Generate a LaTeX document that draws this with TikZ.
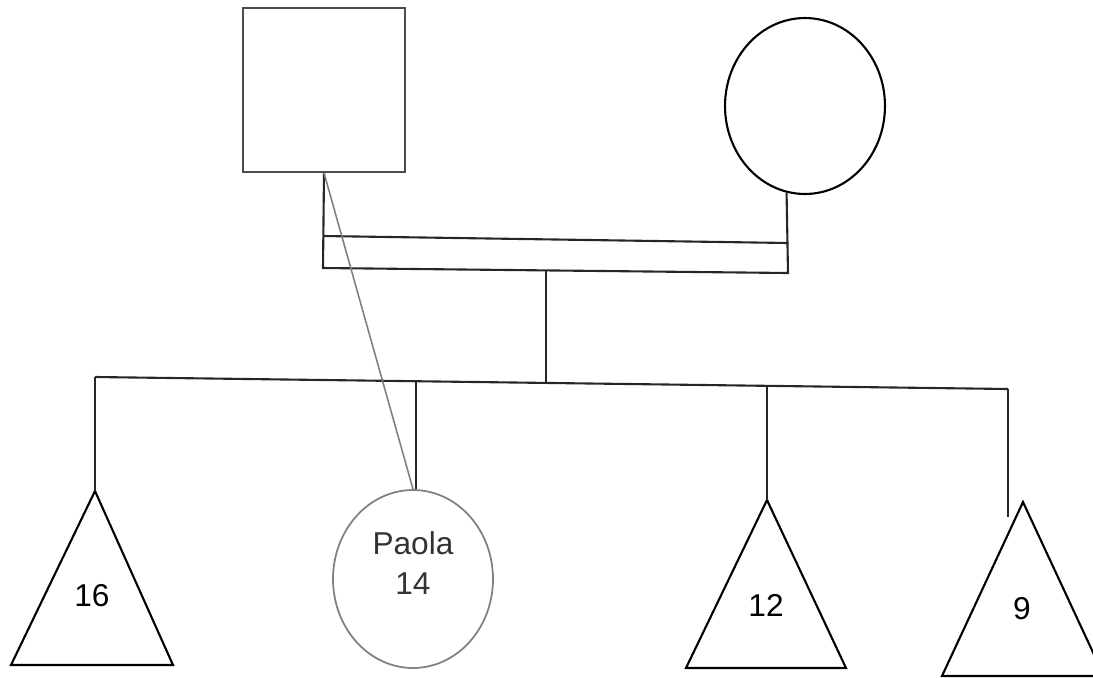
\documentclass[tikz,border=0pt]{standalone}
\usepackage{fontspec}
\setmainfont{Liberation Sans}
\usetikzlibrary{positioning, shapes.geometric, calc}

\begin{document}
\begin{tikzpicture}[x=0.02cm, y=-0.02cm,
        font=\fontsize{18}{22.5}\selectfont,
        every node/.style={align=center},
        line/.style={line width=1.2pt, black!85},
        faint/.style={line width=0.9pt, black!50},
        male/.style={draw, line width=1.1pt, black!70, minimum width=3.24cm, minimum height=3.28cm, inner sep=0pt},
        female/.style={draw, ellipse, line width=1.2pt, minimum width=3.2cm, minimum height=#1, inner sep=0pt},
        female/.default=3.52cm,
        tri/.style={line width=1.2pt, line join=miter}]

        \useasboundingbox (0,0) rectangle (1093,677);
        \clip (0,0) rectangle (1093,677);

        % Eltern
        \node[male] (father) at (324,90) {};
        \node[female] (mother) at (805,106) {};

        % Paarlinie (doppelt)
        \coordinate (cu1) at (323,236);
        \coordinate (cu2) at (788,243);
        \coordinate (cl1) at (323,268);
        \coordinate (cl2) at (788,273);
        \draw[line] (father.south) -- (cl1) -- (cl2) -- (mother.-102);
        \draw[line] (cu1) -- (cu2);

        % Abstammung und Geschwisterlinie
        \coordinate (desc) at (546,270);
        \coordinate (sib) at (546,383);
        \coordinate (s1) at (95,377);
        \coordinate (s2) at (416,381);
        \coordinate (s3) at (767,386);
        \coordinate (s4) at (1008,389);
        \draw[line] (desc) -- (sib);
        \draw[line] (s1) -- (s4);

        % Kinder
        \coordinate (t16) at (95,491);
        \coordinate (t12) at (767,500);
        \coordinate (t9)  at (1023,502);
        \coordinate (e9)  at (1008,517);
        \draw[tri] (t16) -- ++(-84,174) -- ++(162,0) -- cycle;
        \draw[tri] (t12) -- ++(-81,168) -- ++(160,0) -- cycle;
        \draw[tri] (t9)  -- ++(-81,174) -- ++(162,0) -- cycle;
        \node[female=3.56cm, draw=black!50, line width=1pt] (paola) at (413,579) {};

        \node (n16) at (92,596) {16};
        \node (n12) at (766,605) {12};
        \node (n9)  at (1022,609) {9};
        \node[text=black!80] (ptxt) at (413,563) {Paola\\14};

        \draw[line] (s1) -- (t16);
        \draw[line] (s2) -- (s2 |- paola.north);
        \draw[line] (s3) -- (t12);
        \draw[line] (s4) -- (e9);

        % Linie vom Vater zu Paola
        \draw[faint] (father.south) -- (paola.north);
\end{tikzpicture}
\end{document}
